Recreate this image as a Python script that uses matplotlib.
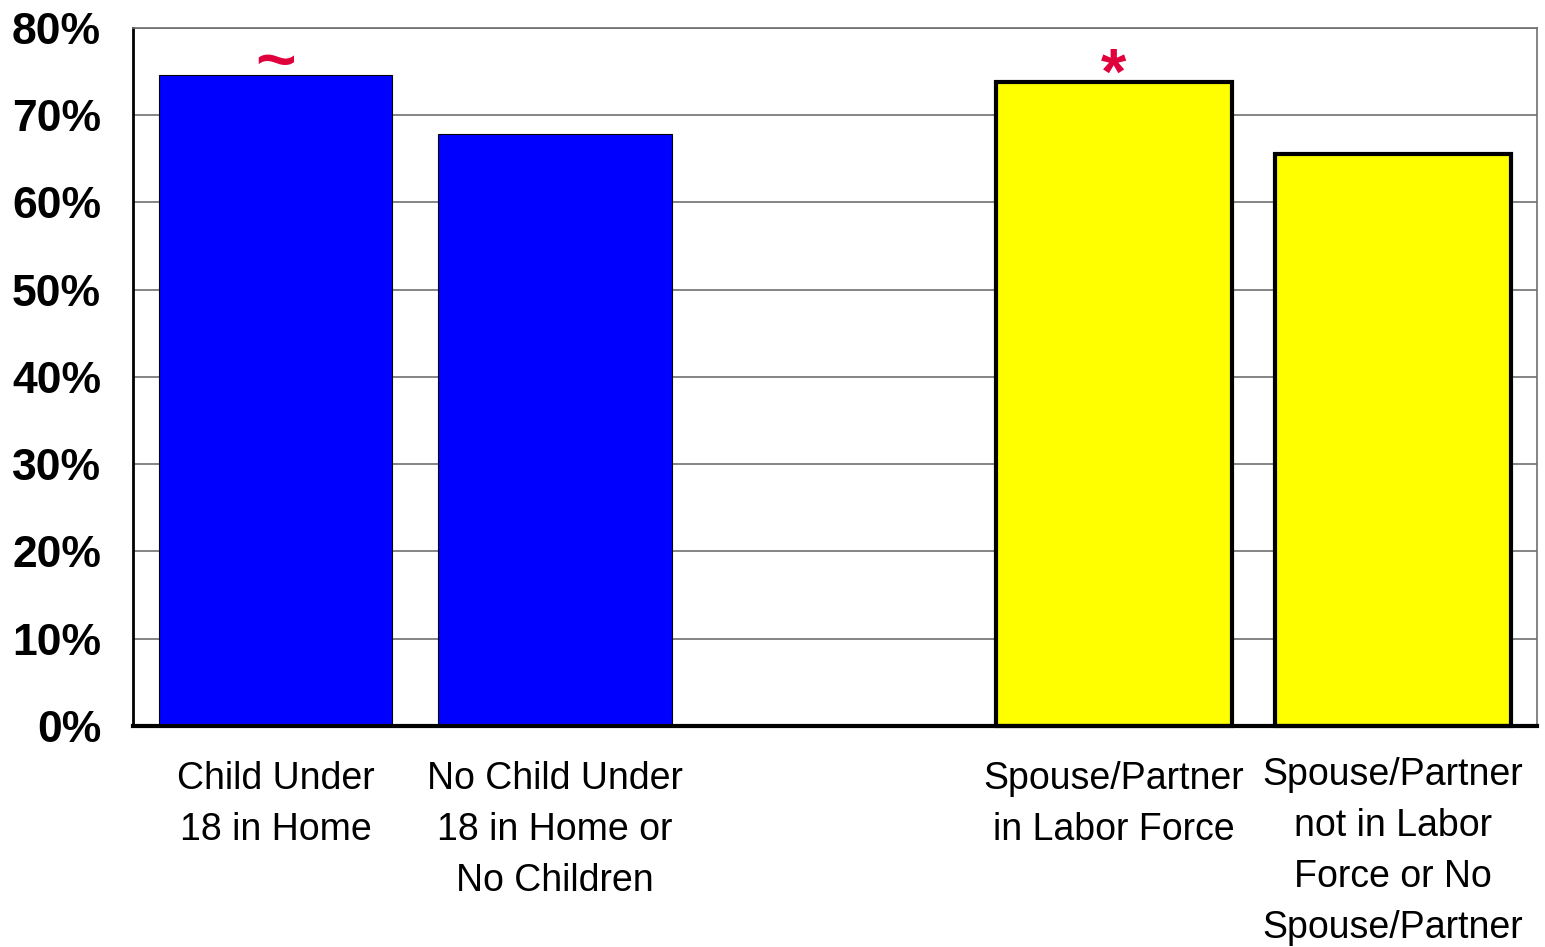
import numpy as np
import matplotlib.pyplot as plt

# Data
categories = ['Child Under\n18 in Home',
              'No Child Under\n18 in Home or\nNo Children',
              'Spouse/Partner\nin Labor Force',
              'Spouse/Partner\nnot in Labor\nForce or No\nSpouse/Partner']
values = [74.6, 67.8, 73.8, 65.6]
positions = [0, 1, 3, 4]
markers = ['~', '', '*', '']
colors = ['#0000FF', '#0000FF', '#FFFF00', '#FFFF00']
edge_widths = [0.8, 0.8, 3.0, 3.0]
bar_widths = [0.835, 0.835, 0.845, 0.845]
yticks = [0, 10, 20, 30, 40, 50, 60, 70, 80]

plt.rcParams['font.family'] = ['Liberation Sans', 'DejaVu Sans']

fig = plt.figure(figsize=(15.45, 9.47), dpi=100)
ax = fig.add_axes([0.0861, 0.2334, 0.9087, 0.7371])

for p, v, c, lw, w in zip(positions, values, colors, edge_widths, bar_widths):
    ax.bar(p, v, width=w, color=c, edgecolor='black', linewidth=lw,
           zorder=3, clip_on=False)

for p, v, m in zip(positions, values, markers):
    if m == '~':
        ax.text(p, v - 0.85, m, ha='center', va='baseline', color='#E0003C',
                fontsize=50, fontweight='bold', zorder=4)
    elif m:
        ax.text(p, v - 1.4, m, ha='center', va='baseline', color='#E0003C',
                fontsize=47, fontweight='bold', zorder=4)

ax.set_xlim(-0.51, 4.515)
ax.set_ylim(0, 80)
ax.set_yticks(yticks)
ax.set_yticklabels([f'{t}%' for t in yticks], fontsize=32, fontweight='bold')
ax.yaxis.grid(True, color='#707070', linewidth=1.2, zorder=0)
ax.tick_params(axis='y', length=0, pad=23)
ax.tick_params(axis='x', length=0, pad=0)

ax.set_xticks(positions)
ax.set_xticklabels([])
for p, lab in zip(positions, categories):
    ax.text(p, -4.0 if lab.count('\n') < 3 else -3.6, lab,
            ha='center', va='top', fontsize=27, linespacing=1.53)

ax.spines['left'].set_linewidth(2)
ax.spines['bottom'].set_linewidth(3)
ax.spines['bottom'].set_zorder(5)
ax.spines['right'].set_color('#707070')
ax.spines['right'].set_linewidth(1.2)
ax.spines['top'].set_color('#707070')
ax.spines['top'].set_linewidth(1.2)

fig.savefig('out.png', dpi=100)
